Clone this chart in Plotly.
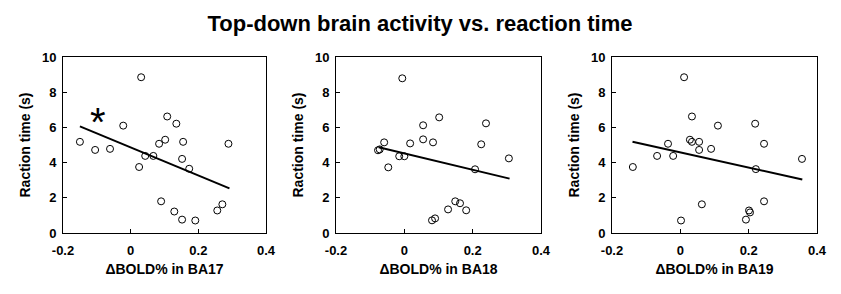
import plotly.graph_objects as go

# ---- data ----
ba17_x = [-0.150, -0.105, -0.061, -0.022, 0.031, 0.025, 0.043, 0.067, 0.084, 0.102, 0.108,
          0.135, 0.155, 0.152, 0.173, 0.289, 0.090, 0.129, 0.152, 0.191, 0.256, 0.271]
ba17_y = [5.18, 4.72, 4.78, 6.10, 8.85, 3.75, 4.38, 4.38, 5.07, 5.30, 6.62,
          6.21, 5.18, 4.21, 3.65, 5.07, 1.80, 1.22, 0.76, 0.71, 1.28, 1.63]
ba17_fit_x = [-0.150, 0.292]
ba17_fit_y = [6.06, 2.54]

ba18_x = [-0.077, -0.072, -0.059, -0.047, -0.015, 0.000, -0.006, 0.017, 0.055, 0.055, 0.084,
          0.102, 0.081, 0.090, 0.128, 0.149, 0.163, 0.181, 0.207, 0.225, 0.239, 0.306]
ba18_y = [4.70, 4.75, 5.15, 3.73, 4.36, 4.36, 8.79, 5.09, 6.12, 5.32, 5.15,
          6.57, 0.72, 0.83, 1.34, 1.80, 1.69, 1.29, 3.62, 5.04, 6.23, 4.24]
ba18_fit_x = [-0.075, 0.308]
ba18_fit_y = [4.87, 3.09]

ba19_x = [-0.139, -0.068, -0.036, -0.021, 0.002, 0.011, 0.028, 0.034, 0.034, 0.055, 0.055,
          0.063, 0.090, 0.110, 0.192, 0.201, 0.204, 0.219, 0.221, 0.245, 0.245, 0.356]
ba19_y = [3.75, 4.38, 5.07, 4.38, 0.71, 8.85, 5.30, 6.62, 5.18, 5.18, 4.72,
          1.63, 4.78, 6.10, 0.76, 1.28, 1.17, 6.21, 3.63, 5.07, 1.80, 4.21]
ba19_fit_x = [-0.140, 0.357]
ba19_fit_y = [5.18, 3.04]

panels = [
    ("ΔBOLD% in BA17", ba17_x, ba17_y, ba17_fit_x, ba17_fit_y),
    ("ΔBOLD% in BA18", ba18_x, ba18_y, ba18_fit_x, ba18_fit_y),
    ("ΔBOLD% in BA19", ba19_x, ba19_y, ba19_fit_x, ba19_fit_y),
]
x_ticks = [-0.2, 0, 0.2, 0.4]
x_tick_labels = ["-0.2", "0", "0.2", "0.4"]
y_ticks = [0, 2, 4, 6, 8, 10]
y_title = "Raction time (s)"
title = "Top-down brain activity vs. reaction time"
star_x, star_y = -0.098, 6.65

# page body has an 8px default margin -> figure drawn offset by 8px
OFF = 8
W, H = 841 - OFF, 294 - OFF
x_domains_px = [(63, 266), (336, 541), (612, 817)]
y_top_px, y_bot_px = 57, 233
y_dom = [1 - (y_bot_px - OFF) / H, 1 - (y_top_px - OFF) / H]

FONT = "Liberation Sans, Arial, sans-serif"

fig = go.Figure()
layout = dict(
    width=W, height=H,
    margin=dict(l=0, r=0, t=0, b=0),
    paper_bgcolor="white", plot_bgcolor="white",
    showlegend=False,
    font=dict(family=FONT, color="black"),
)

for i, (xt, xs, ys, fx, fy) in enumerate(panels):
    n = "" if i == 0 else str(i + 1)
    fig.add_trace(go.Scatter(
        x=xs, y=ys, mode="markers", xaxis="x" + n, yaxis="y" + n,
        marker=dict(symbol="circle-open", size=7, color="black", line=dict(width=1, color="black")),
    ))
    fig.add_trace(go.Scatter(
        x=fx, y=fy, mode="lines", xaxis="x" + n, yaxis="y" + n,
        line=dict(color="black", width=2),
    ))
    d0, d1 = x_domains_px[i]
    layout["xaxis" + n] = dict(
        domain=[(d0 - OFF) / W, (d1 - OFF) / W], anchor="y" + n, range=[-0.2, 0.4],
        tickvals=x_ticks, ticktext=x_tick_labels, automargin=False,
        ticks="inside", ticklen=4, tickcolor="black", tickwidth=1,
        ticklabelstandoff=5,
        showline=True, linecolor="black", linewidth=1, mirror=True,
        showgrid=False, zeroline=False,
        tickfont=dict(size=13, family=FONT, weight="bold"),
        title=dict(text="<b>" + xt + "</b>", font=dict(size=14, family=FONT), standoff=7),
    )
    layout["yaxis" + n] = dict(
        domain=y_dom, anchor="x" + n, range=[0, 10], automargin=False,
        tickvals=y_ticks, ticklabelstandoff=3,
        ticks="inside", ticklen=4, tickcolor="black", tickwidth=1,
        showline=True, linecolor="black", linewidth=1, mirror=True,
        showgrid=False, zeroline=False,
        tickfont=dict(size=13, family=FONT, weight="bold"),
        title=dict(text="<b>" + y_title + "</b>", font=dict(size=14, family=FONT), standoff=8),
    )

layout["title"] = dict(
    text="<b>" + title + "</b>", x=(420 - OFF) / W, xanchor="center",
    y=1 - (23 - OFF) / H, yanchor="middle",
    font=dict(size=22, family=FONT, color="black"),
)
layout["annotations"] = [dict(
    x=star_x, y=star_y, xref="x", yref="y", text="*", showarrow=False,
    font=dict(size=40, family=FONT, color="black"), yanchor="middle", yshift=-6,
)]
fig.update_layout(**layout)
fig.write_html("out.html")
